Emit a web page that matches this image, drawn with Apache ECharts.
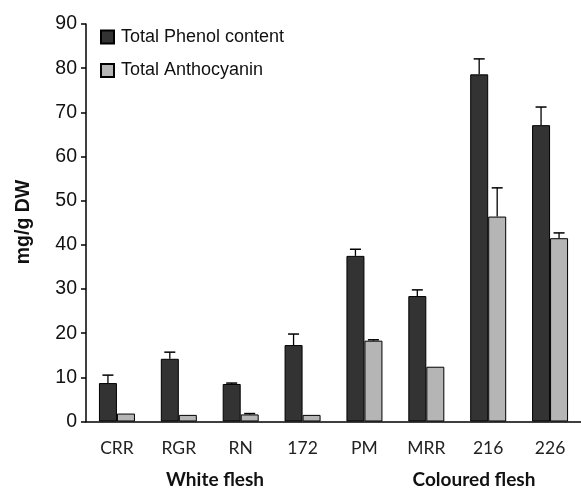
<!DOCTYPE html>
<html><head><meta charset="utf-8">
<script src="https://cdn.jsdelivr.net/npm/echarts@6/dist/echarts.min.js"></script>
<style>html,body{margin:0;padding:0;background:#fff}#c{width:581px;height:489px}</style>
</head><body><div id="c"></div>
<script>
const categories = ['CRR','RGR','RN','172','PM','MRR','216','226'];
const phenol = [8.7, 14.2, 8.5, 17.3, 37.5, 28.4, 78.6, 67.1];
const phenolErr = [1.8, 1.5, 0.2, 2.5, 1.5, 1.4, 3.5, 4.1];
const antho = [1.8, 1.5, 1.6, 1.5, 18.3, 12.4, 46.4, 41.5];
const anthoErr = [0, 0, 0.2, 0, 0.2, 0, 6.5, 1.2];
const groupLabels = ['White flesh', 'Coloured flesh'];
const yTicks = {min: 0, max: 90, interval: 10};

const chart = echarts.init(document.getElementById('c'));
const BW = 18;
function errSeries(vals, errs, off){
  return {
    type: 'custom', silent: true, z: 5,
    data: vals.map((v,i)=>[i, v, v+errs[i]]),
    renderItem: function(params, api){
      const i = api.value(0);
      const p0 = api.coord([i, api.value(1)]);
      const p1 = api.coord([i, api.value(2)]);
      const x = p0[0] + off;
      if (Math.abs(p0[1]-p1[1]) < 0.5) return {type:'group', children: []};
      return {type:'group', children:[
        {type:'line', shape:{x1:x,y1:p0[1],x2:x,y2:p1[1]}, style:{stroke:'#000', lineWidth:1.3}},
        {type:'line', shape:{x1:x-5.5,y1:p1[1],x2:x+5.5,y2:p1[1]}, style:{stroke:'#000', lineWidth:1.5}}
      ]};
    }
  };
}
chart.setOption({
  animation: false,
  grid: {left: 86, right: 0, top: 24, bottom: 67.5},
  legend: {
    orient: 'vertical', left: 100, top: 28, padding: 0, itemWidth: 13, itemHeight: 13, itemGap: 15.5,
    icon: 'rect',
    textStyle: {fontFamily: 'Liberation Sans', fontSize: 18, color: '#111', padding:[0,0,0,2]},
    data: ['Total Phenol content', 'Total Anthocyanin']
  },
  xAxis: {
    type: 'category', data: categories,
    axisLine: {lineStyle: {color: '#000', width: 1.5}},
    axisTick: {length: 8, lineStyle: {color: '#000', width: 1.5}},
    axisLabel: {fontFamily: 'Lato', fontSize: 17.5, color: '#222', margin: 18}
  },
  yAxis: {
    type: 'value', min: yTicks.min, max: yTicks.max, interval: yTicks.interval,
    splitLine: {show: false},
    axisLine: {show: true, lineStyle: {color: '#000', width: 1.5}},
    axisTick: {show: true, length: 5, lineStyle: {color: '#000', width: 1.5}},
    axisLabel: {fontFamily: 'Liberation Sans', fontSize: 19.5, color: '#111', margin: 9}
  },
  graphic: [
    {type:'text', x: 24, y: 222, rotation: Math.PI/2, style:{text:'mg/g DW', font:'bold 19.5px "Liberation Sans"', fill:'#111', textAlign:'center', textVerticalAlign:'middle'}},
    {type:'text', style:{text: groupLabels[0], font:'bold 19px Lato', fill:'#111', textAlign:'center', textVerticalAlign:'middle', x: 215, y: 480}},
    {type:'text', style:{text: groupLabels[1], font:'bold 19px Lato', fill:'#111', textAlign:'center', textVerticalAlign:'middle', x: 474, y: 480}}
  ],
  series: [
    {name:'Total Phenol content', type:'bar', data: phenol, barWidth: BW, barGap: '0%',
     itemStyle:{color:'#333333', borderColor:'#000', borderWidth:1}},
    {name:'Total Anthocyanin', type:'bar', data: antho, barWidth: BW, barGap: '0%',
     itemStyle:{color:'#b5b5b5', borderColor:'#000', borderWidth:1}},
    errSeries(phenol, phenolErr, -BW/2),
    errSeries(antho, anthoErr, BW/2)
  ]
});
</script></body></html>
